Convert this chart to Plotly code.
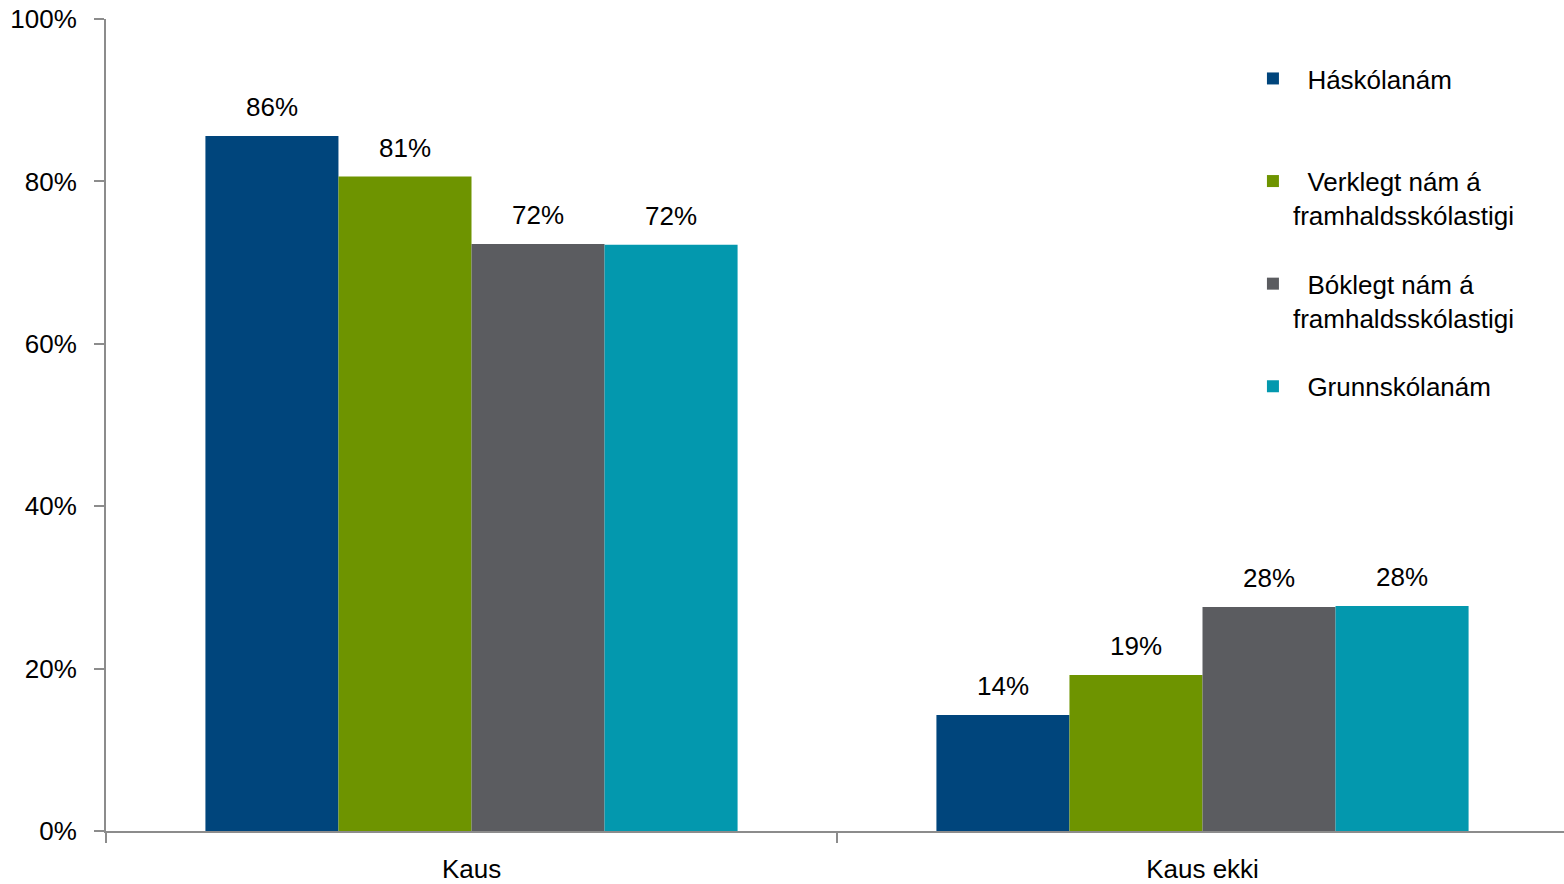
import plotly.graph_objects as go

categories = ["Kaus", "Kaus ekki"]
series_names = [
    "\u00a0\u00a0Háskólanám<br>\u00a0",
    "\u00a0\u00a0Verklegt nám á<br>framhaldsskólastigi",
    "\u00a0\u00a0Bóklegt nám á<br>framhaldsskólastigi",
    "\u00a0\u00a0Grunnskólanám<br>\u00a0",
]
haskola = [0.856, 0.143]
verklegt = [0.806, 0.192]
boklegt = [0.723, 0.276]
grunnskola = [0.722, 0.277]
colors = ["#00457C", "#6E9400", "#5B5C60", "#0398AE"]

FONT = "Liberation Sans, Arial, sans-serif"
FS = 26

W, H = 1568, 884
ML, MR, MT, MB = 106, 0, 19, 53
BARGAP = 0.272
plot_w = W - ML - MR
cat_px = plot_w / len(categories)
bar_px = cat_px * (1 - BARGAP) / 4

all_series = [haskola, verklegt, boklegt, grunnskola]

fig = go.Figure()
for i, (name, vals) in enumerate(zip(series_names, all_series)):
    fig.add_trace(go.Bar(
        x=categories, y=vals, name=name,
        marker=dict(color=colors[i], line=dict(width=0)),
        legendgroup=str(i),
    ))
    for c, v in zip(categories, vals):
        fig.add_annotation(
            x=c, y=v, text=f"{round(v * 100)}%", showarrow=False,
            xanchor="center", yanchor="bottom",
            xshift=(i - 1.5) * bar_px, yshift=12,
            font=dict(size=FS, color="#000000", family=FONT),
        )

fig.update_layout(
    width=W, height=H,
    margin=dict(l=ML, r=MR, t=MT, b=MB, autoexpand=False),
    paper_bgcolor="white", plot_bgcolor="white",
    barmode="group", bargap=BARGAP, bargroupgap=0,
    font=dict(family=FONT, size=FS, color="#000000"),
    showlegend=True,
    legend=dict(
        x=0.7845, y=0.9556, xanchor="left", yanchor="top",
        font=dict(size=FS, family=FONT),
        traceorder="grouped", tracegroupgap=32, valign="top",
        bgcolor="rgba(0,0,0,0)", itemwidth=30,
    ),
    yaxis=dict(
        range=[0, 1], tickvals=[0, 0.2, 0.4, 0.6, 0.8, 1.0], tickformat=".0%",
        showgrid=False, showline=True, linecolor="#8C8C8C", linewidth=2,
        ticks="outside", ticklen=10, tickcolor="#8C8C8C", tickwidth=2,
        zeroline=False, tickfont=dict(size=FS), ticklabelstandoff=12,
    ),
    xaxis=dict(
        showline=True, linecolor="#8C8C8C", linewidth=2,
        ticks="outside", tickson="boundaries", ticklen=10, tickcolor="#8C8C8C", tickwidth=2,
        tickfont=dict(size=FS), showgrid=False, ticklabelstandoff=14,
    ),
)

fig.write_html(
    "out.html",
    config={"displayModeBar": False},
    post_script="document.body.style.margin='0px';document.body.style.overflow='hidden';",
)
